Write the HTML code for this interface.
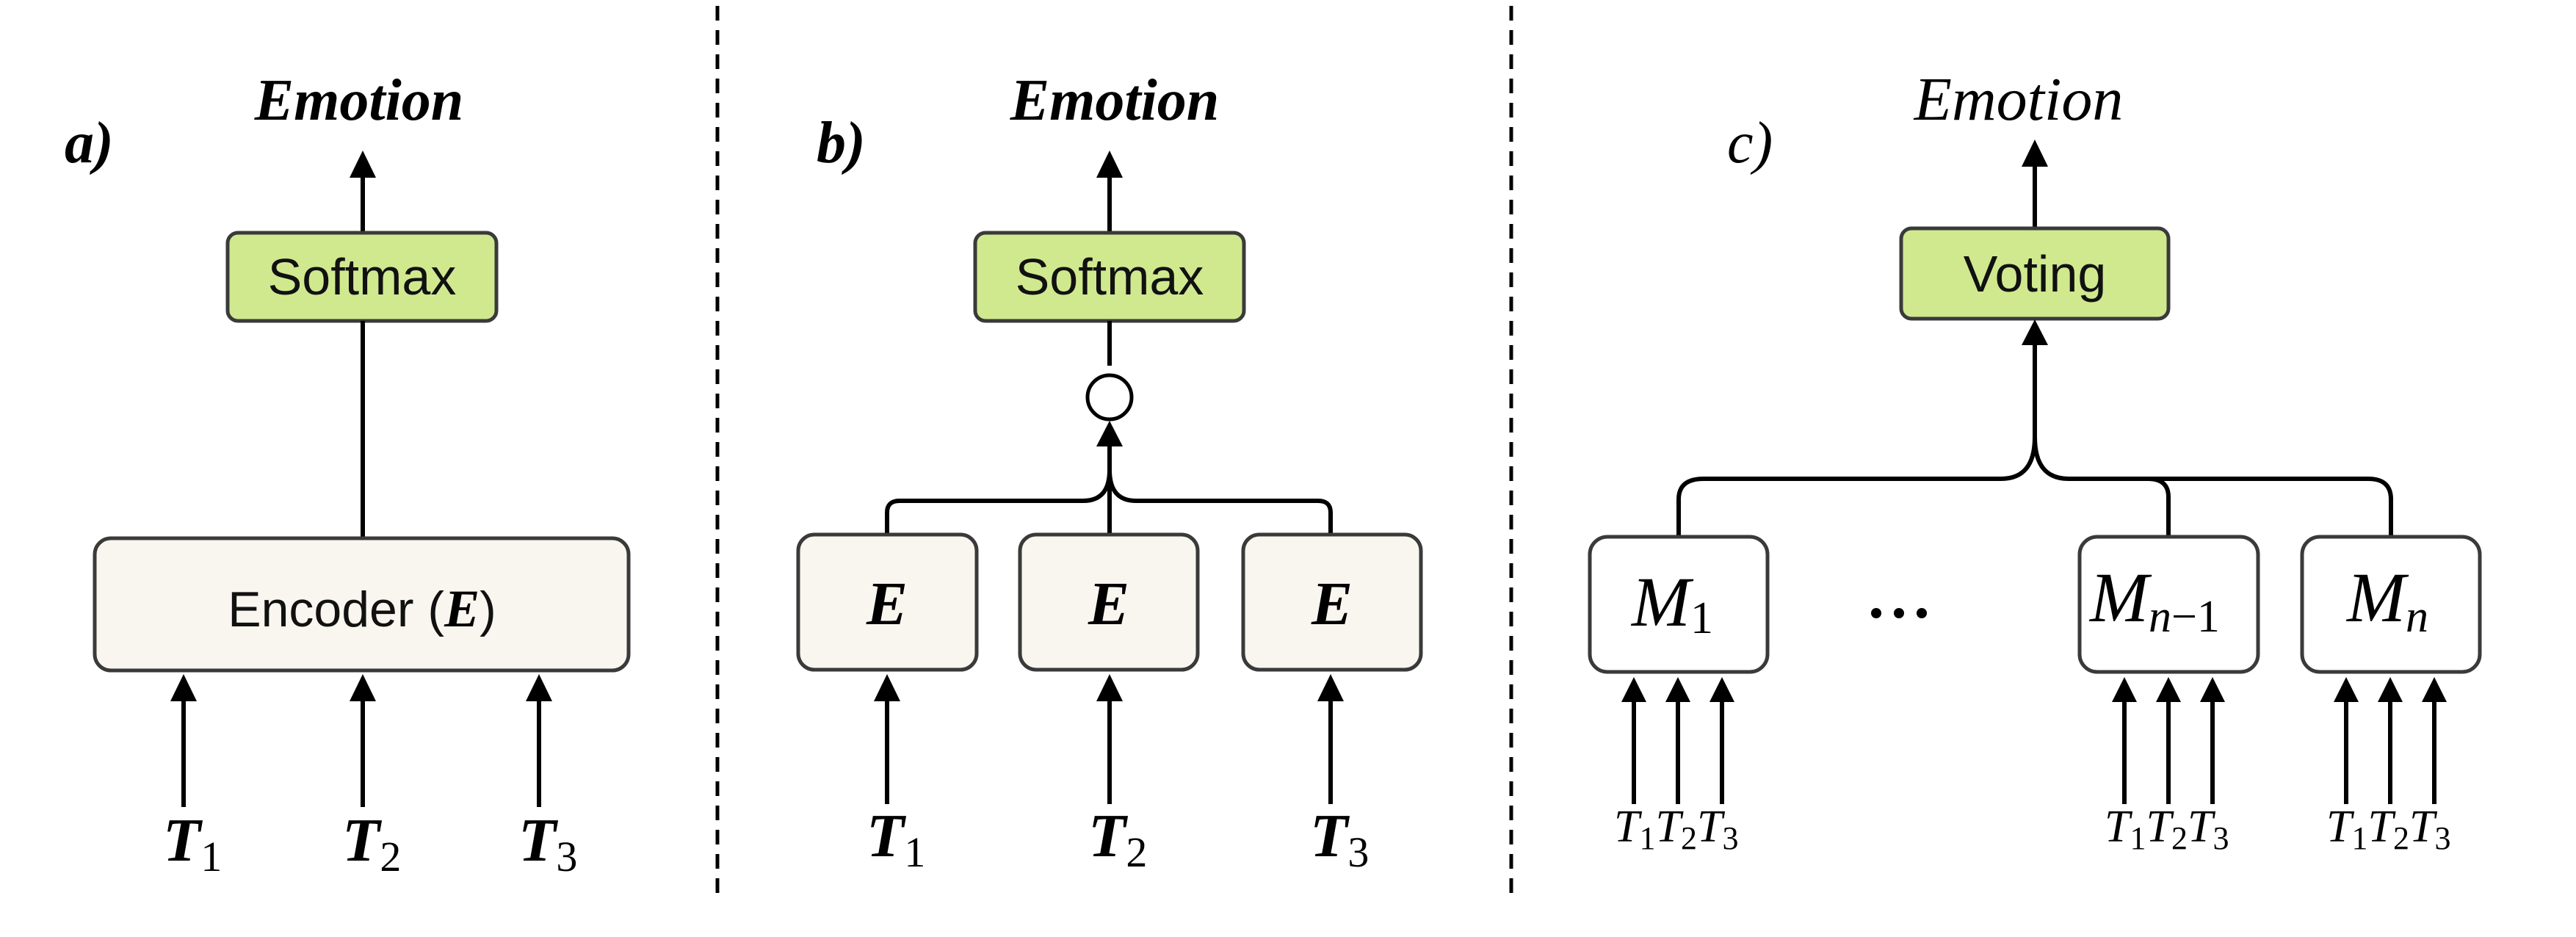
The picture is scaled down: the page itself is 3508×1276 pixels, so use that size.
<!DOCTYPE html>
<html><head><meta charset="utf-8"><style>html,body{margin:0;padding:0;background:#fff}svg{display:block}</style></head>
<body>
<svg width="3508" height="1276" viewBox="0 0 3508 1276" xmlns="http://www.w3.org/2000/svg">
<style>
.ln{stroke:#000;stroke-width:6;fill:none}
.bx{stroke:#3a3a3a;stroke-width:5}
.g{fill:#d0e98f}
.w{fill:#f8f6ee}
.s{font-family:"Liberation Sans",sans-serif;fill:#111}
.m{font-family:"Liberation Serif",serif;font-style:italic;fill:#000}
.b{font-weight:bold}
</style>
<line x1="977" y1="8" x2="977" y2="1220" stroke="#000" stroke-width="5" stroke-dasharray="20,13"/>
<line x1="2058" y1="8" x2="2058" y2="1220" stroke="#000" stroke-width="5" stroke-dasharray="20,13"/>

<!-- Panel a -->
<text class="m b" x="489" y="163" font-size="80" text-anchor="middle">Emotion</text>
<text class="m b" x="88" y="221" font-size="80">a)</text>
<line class="ln" x1="494" y1="316" x2="494" y2="240"/>
<polygon points="494,205 476,242 512,242"/>
<rect class="bx g" x="310" y="317" width="366" height="120" rx="14"/>
<text class="s" x="493" y="401" font-size="70" text-anchor="middle">Softmax</text>
<line class="ln" x1="494" y1="437" x2="494" y2="733"/>
<rect class="bx w" x="129" y="733" width="727" height="180" rx="22"/>
<text class="s" x="493" y="853" font-size="68" text-anchor="middle">Encoder (<tspan class="m b" font-size="72">E</tspan>)</text>
<line class="ln" x1="250" y1="1099" x2="250" y2="950"/><polygon points="250,918 232,955 268,955"/>
<line class="ln" x1="494" y1="1099" x2="494" y2="950"/><polygon points="494,918 476,955 512,955"/>
<line class="ln" x1="734" y1="1099" x2="734" y2="950"/><polygon points="734,918 716,955 752,955"/>
<text class="m b" x="222" y="1172" font-size="84">T<tspan font-style="normal" font-weight="normal" font-size="58" dy="14">1</tspan></text>
<text class="m b" x="466" y="1172" font-size="84">T<tspan font-style="normal" font-weight="normal" font-size="58" dy="14">2</tspan></text>
<text class="m b" x="706" y="1172" font-size="84">T<tspan font-style="normal" font-weight="normal" font-size="58" dy="14">3</tspan></text>

<!-- Panel b -->
<text class="m b" x="1518" y="163" font-size="80" text-anchor="middle">Emotion</text>
<text class="m b" x="1112" y="221" font-size="80">b)</text>
<line class="ln" x1="1511" y1="316" x2="1511" y2="240"/>
<polygon points="1511,205 1493,242 1529,242"/>
<rect class="bx g" x="1328" y="317" width="366" height="120" rx="14"/>
<text class="s" x="1511" y="401" font-size="70" text-anchor="middle">Softmax</text>
<line class="ln" x1="1511" y1="437" x2="1511" y2="498"/>
<circle cx="1511" cy="541" r="30" fill="#fff" stroke="#000" stroke-width="5"/>
<polygon points="1511,573 1493,608 1529,608"/>
<path class="ln" d="M1511,606 L1511,728"/>
<path class="ln" d="M1208,728 L1208,698 Q1208,682 1225,682 L1475,682 Q1511,682 1511,640"/>
<path class="ln" d="M1812,728 L1812,698 Q1812,682 1795,682 L1547,682 Q1511,682 1511,640"/>
<rect class="bx w" x="1087" y="728" width="243" height="184" rx="22"/>
<rect class="bx w" x="1389" y="728" width="242" height="184" rx="22"/>
<rect class="bx w" x="1693" y="728" width="242" height="184" rx="22"/>
<text class="m b" x="1208" y="850" font-size="84" text-anchor="middle">E</text>
<text class="m b" x="1510" y="850" font-size="84" text-anchor="middle">E</text>
<text class="m b" x="1814" y="850" font-size="84" text-anchor="middle">E</text>
<line class="ln" x1="1208" y1="1095" x2="1208" y2="950"/><polygon points="1208,918 1190,955 1226,955"/>
<line class="ln" x1="1511" y1="1095" x2="1511" y2="950"/><polygon points="1511,918 1493,955 1529,955"/>
<line class="ln" x1="1812" y1="1095" x2="1812" y2="950"/><polygon points="1812,918 1794,955 1830,955"/>
<text class="m b" x="1180" y="1166" font-size="84">T<tspan font-style="normal" font-weight="normal" font-size="58" dy="14">1</tspan></text>
<text class="m b" x="1482" y="1166" font-size="84">T<tspan font-style="normal" font-weight="normal" font-size="58" dy="14">2</tspan></text>
<text class="m b" x="1784" y="1166" font-size="84">T<tspan font-style="normal" font-weight="normal" font-size="58" dy="14">3</tspan></text>

<!-- Panel c -->
<text class="m" x="2749" y="163" font-size="84" text-anchor="middle">Emotion</text>
<text class="m" x="2352" y="221" font-size="80">c)</text>
<line class="ln" x1="2771" y1="311" x2="2771" y2="225"/>
<polygon points="2771,190 2753,227 2789,227"/>
<rect class="bx g" x="2589" y="311" width="364" height="123" rx="14"/>
<text class="s" x="2771" y="397" font-size="70" text-anchor="middle">Voting</text>
<polygon points="2771,435 2753,470 2789,470"/>
<line class="ln" x1="2771" y1="468" x2="2771" y2="600"/>
<path class="ln" d="M2286,731 L2286,680 Q2286,652 2320,652 L2725,652 Q2771,652 2771,595"/>
<path class="ln" d="M2953,731 L2953,677 Q2953,652 2925,652 L2817,652 Q2771,652 2771,595"/>
<path class="ln" d="M3256,731 L3256,680 Q3256,652 3225,652 L2920,652"/>
<rect class="bx" fill="#fff" x="2165" y="731" width="242" height="184" rx="24"/>
<rect class="bx" fill="#fff" x="2832" y="731" width="243" height="184" rx="24"/>
<rect class="bx" fill="#fff" x="3135" y="731" width="242" height="184" rx="24"/>
<text class="m" x="2222" y="852" font-size="96">M<tspan font-style="normal" font-size="62" dy="10">1</tspan></text>
<text class="m" x="2846" y="846" font-size="96">M<tspan font-size="62" dy="14">n</tspan><tspan font-style="normal" font-size="62">−1</tspan></text>
<text class="m" x="3196" y="846" font-size="96">M<tspan font-size="62" dy="14">n</tspan></text>
<circle cx="2555" cy="835" r="7"/><circle cx="2586" cy="835" r="7"/><circle cx="2617" cy="835" r="7"/>
<line class="ln" x1="2225" y1="1095" x2="2225" y2="952"/><polygon points="2225,922 2208,956 2242,956"/>
<line class="ln" x1="2285" y1="1095" x2="2285" y2="952"/><polygon points="2285,922 2268,956 2302,956"/>
<line class="ln" x1="2345" y1="1095" x2="2345" y2="952"/><polygon points="2345,922 2328,956 2362,956"/>
<line class="ln" x1="2893" y1="1095" x2="2893" y2="952"/><polygon points="2893,922 2876,956 2910,956"/>
<line class="ln" x1="2953" y1="1095" x2="2953" y2="952"/><polygon points="2953,922 2936,956 2970,956"/>
<line class="ln" x1="3013" y1="1095" x2="3013" y2="952"/><polygon points="3013,922 2996,956 3030,956"/>
<line class="ln" x1="3195" y1="1095" x2="3195" y2="952"/><polygon points="3195,922 3178,956 3212,956"/>
<line class="ln" x1="3255" y1="1095" x2="3255" y2="952"/><polygon points="3255,922 3238,956 3272,956"/>
<line class="ln" x1="3315" y1="1095" x2="3315" y2="952"/><polygon points="3315,922 3298,956 3332,956"/>
<text class="m" x="2198" y="1146" font-size="62">T<tspan font-style="normal" font-size="44" dy="10">1</tspan><tspan dy="-10">T</tspan><tspan font-style="normal" font-size="44" dy="10">2</tspan><tspan dy="-10">T</tspan><tspan font-style="normal" font-size="44" dy="10">3</tspan></text>
<text class="m" x="2866" y="1146" font-size="62">T<tspan font-style="normal" font-size="44" dy="10">1</tspan><tspan dy="-10">T</tspan><tspan font-style="normal" font-size="44" dy="10">2</tspan><tspan dy="-10">T</tspan><tspan font-style="normal" font-size="44" dy="10">3</tspan></text>
<text class="m" x="3168" y="1146" font-size="62">T<tspan font-style="normal" font-size="44" dy="10">1</tspan><tspan dy="-10">T</tspan><tspan font-style="normal" font-size="44" dy="10">2</tspan><tspan dy="-10">T</tspan><tspan font-style="normal" font-size="44" dy="10">3</tspan></text>
</svg>
</body></html>
